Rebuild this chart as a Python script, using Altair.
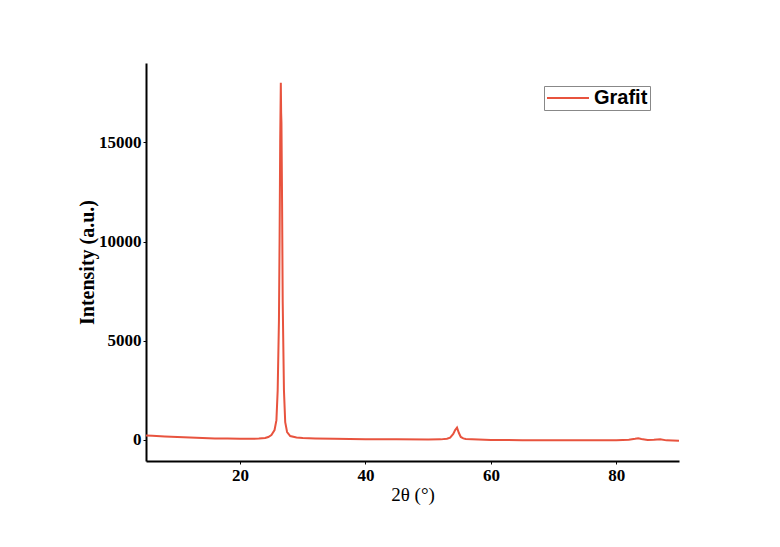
import altair as alt
import pandas as pd

two_theta = [5, 6, 8, 10, 12, 14, 16, 18, 20, 22, 23, 24, 24.5, 25, 25.5, 25.8,
             26.0, 26.2, 26.3, 26.4, 26.5, 26.55, 26.6, 26.7, 26.8, 27.0, 27.2,
             27.5, 28, 29, 30, 32, 35, 40, 45, 50, 52, 53, 53.5, 54, 54.3, 54.6,
             54.9, 55.2, 55.6, 56, 58, 60, 65, 70, 75, 80, 82, 83, 83.5, 84, 85,
             86, 87, 88, 90]
intensity = [230, 210, 180, 150, 120, 100, 80, 70, 60, 60, 70, 100, 150, 250, 500, 1000,
             2500, 6000, 10000, 15000, 18000, 16500, 16000, 12000, 7000, 2500, 900,
             400, 200, 120, 100, 80, 60, 40, 30, 20, 30, 60, 120, 300, 500, 620,
             350, 150, 80, 50, 20, 0, -10, -10, -10, -10, 10, 60, 90, 50, 0,
             10, 30, -20, -40]
series = ["Grafit"] * len(two_theta)

df = pd.DataFrame({"x": two_theta, "y": intensity, "s": series})

chart = alt.Chart(df).mark_line(strokeWidth=2, clip=True).encode(
    x=alt.X("x:Q", scale=alt.Scale(domain=[5, 90], nice=False, zero=False),
            axis=alt.Axis(title="2θ (°)", values=[20, 40, 60, 80], grid=False, format="d",
                          domainColor="black", domainWidth=2, tickColor="black",
                          tickSize=3, labelFont="Liberation Serif", labelFontSize=17,
                          labelFontWeight="bold", labelColor="black", labelPadding=3,
                          titleFont="Liberation Serif", titleFontSize=19,
                          titleFontWeight="normal", titleColor="black", titlePadding=2)),
    y=alt.Y("y:Q", scale=alt.Scale(domain=[-1060, 19000], nice=False, zero=False),
            axis=alt.Axis(title="Intensity (a.u.)", values=[0, 5000, 10000, 15000], grid=False,
                          format="d",
                          domainColor="black", domainWidth=2, tickColor="black",
                          tickSize=3, labelFont="Liberation Serif", labelFontSize=17,
                          labelFontWeight="bold", labelColor="black", labelPadding=2,
                          titleFont="Liberation Serif", titleFontSize=20,
                          titleFontWeight="bold", titleColor="black", titlePadding=1)),
    color=alt.Color("s:N", scale=alt.Scale(range=["#e8533e"]),
                    legend=alt.Legend(title=None, orient="none", legendX=398, legendY=23,
                                      symbolType="stroke", symbolSize=1764, symbolStrokeWidth=2,
                                      clipHeight=20,
                                      labelFont="Liberation Sans", labelFontSize=20,
                                      labelFontWeight="bold", labelColor="black",
                                      strokeColor="#888888", padding=2, labelOffset=4)),
).properties(
    width=533, height=398,
    autosize=alt.AutoSizeParams(type="none"),
    padding={"left": 138, "top": 55, "right": 90, "bottom": 78},
).configure(background="white").configure_view(stroke=None)

chart.save("out.html", embed_options={"renderer": "svg", "actions": False})
